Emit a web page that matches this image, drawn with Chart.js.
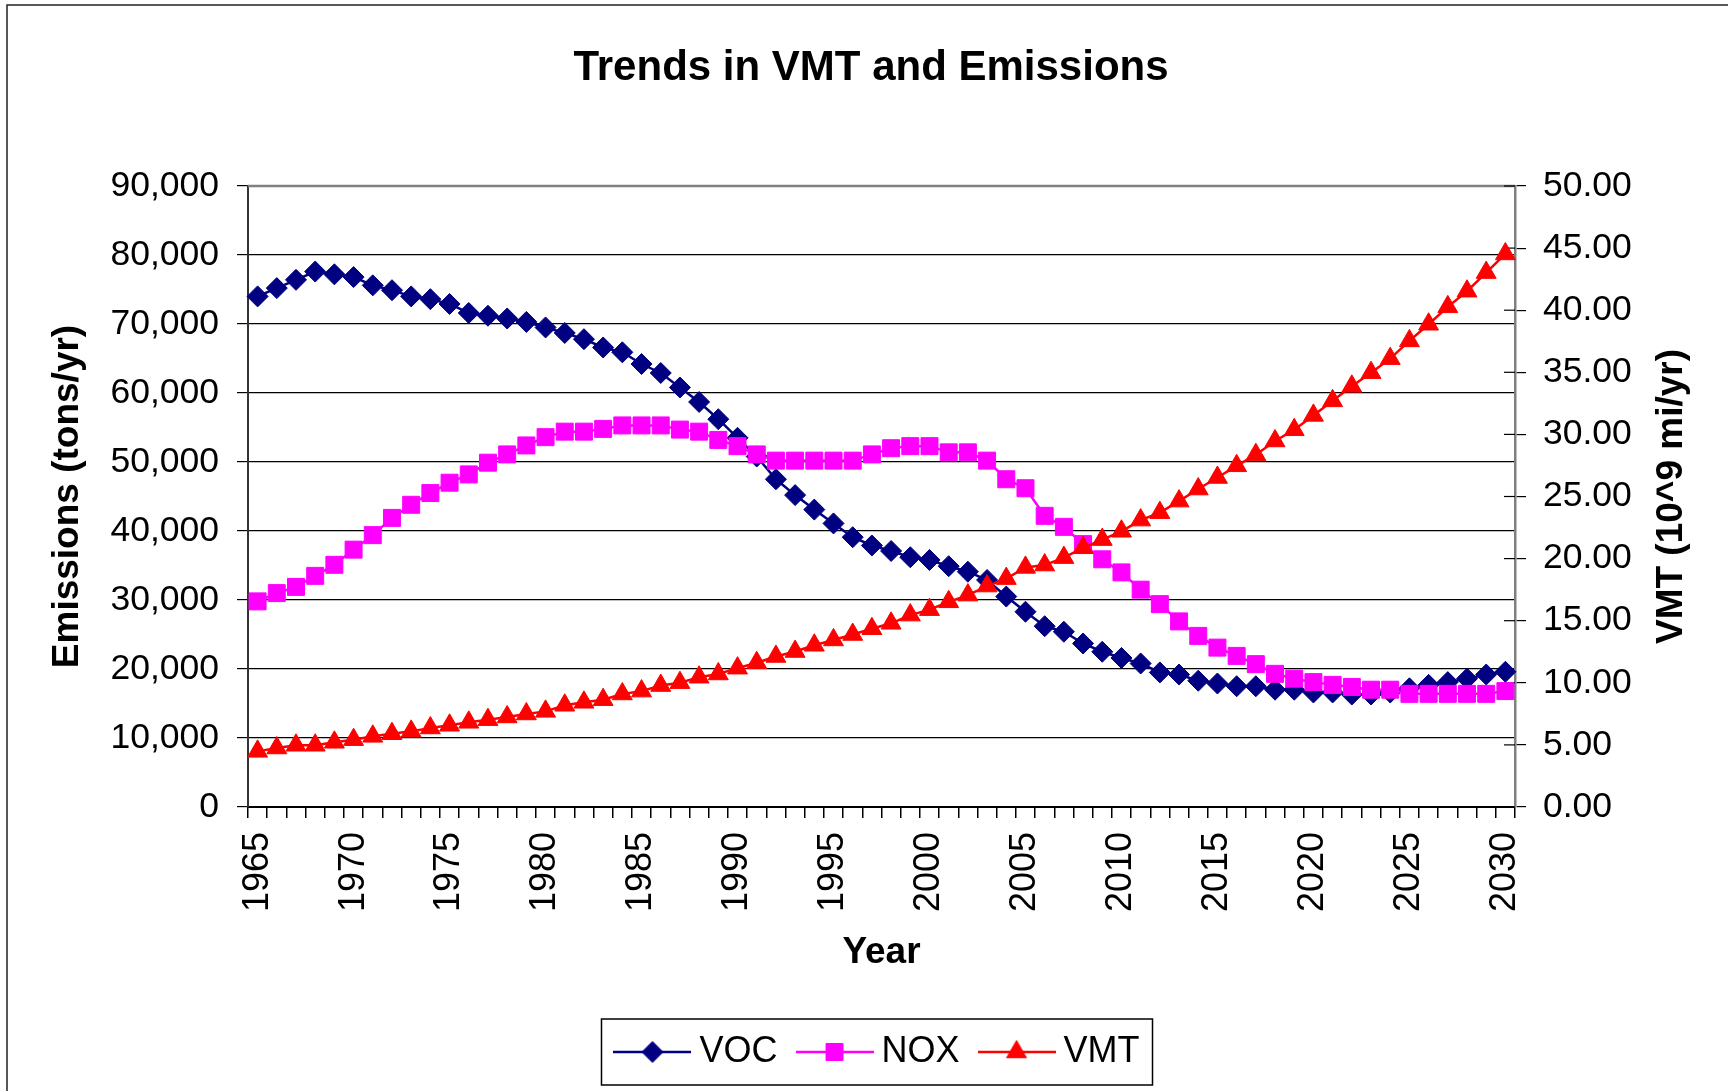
<!DOCTYPE html>
<html>
<head>
<meta charset="utf-8">
<title>Trends in VMT and Emissions</title>
<script src="https://cdn.jsdelivr.net/npm/chart.js@4/dist/chart.umd.min.js"></script>
<style>
  html, body { margin: 0; padding: 0; background: #fff; }
  canvas { display: block; }
</style>
</head>
<body>
<canvas id="trendChart" width="1728" height="1091"></canvas>
<script>
const years = ['1965', '1966', '1967', '1968', '1969', '1970', '1971', '1972', '1973', '1974',
  '1975', '1976', '1977', '1978', '1979', '1980', '1981', '1982', '1983', '1984',
  '1985', '1986', '1987', '1988', '1989', '1990', '1991', '1992', '1993', '1994',
  '1995', '1996', '1997', '1998', '1999', '2000', '2001', '2002', '2003', '2004',
  '2005', '2006', '2007', '2008', '2009', '2010', '2011', '2012', '2013', '2014',
  '2015', '2016', '2017', '2018', '2019', '2020', '2021', '2022', '2023', '2024',
  '2025', '2026', '2027', '2028', '2029', '2030'];

// emissions, tons/yr (left axis)
const vocValues = [74000, 75200, 76400, 77600, 77200, 76800, 75600, 74900, 74000, 73600,
  72900, 71600, 71200, 70800, 70300, 69500, 68700, 67800, 66600, 65900,
  64200, 62900, 60800, 58700, 56200, 53500, 50800, 47500, 45200, 43100,
  41100, 39100, 37900, 37100, 36200, 35800, 34900, 34100, 32900, 30500,
  28300, 26200, 25400, 23700, 22500, 21600, 20800, 19500, 19200, 18300,
  17900, 17500, 17500, 17000, 17000, 16600, 16600, 16300, 16300, 16600,
  17200, 17700, 18100, 18600, 19200, 19600];

const noxValues = [29800, 31000, 31900, 33500, 35100, 37300, 39400, 41900, 43800, 45500,
  47000, 48200, 49900, 51100, 52400, 53600, 54400, 54400, 54800, 55300,
  55300, 55300, 54700, 54400, 53200, 52300, 51100, 50200, 50200, 50200,
  50200, 50200, 51100, 52000, 52300, 52300, 51400, 51400, 50200, 47500,
  46200, 42200, 40600, 38100, 35900, 34000, 31500, 29400, 26900, 24800,
  23100, 21900, 20700, 19300, 18600, 18100, 17700, 17400, 17000, 17000,
  16400, 16400, 16400, 16400, 16400, 16800];

// VMT, 10^9 mi/yr (right axis)
const vmtValues = [4.48, 4.75, 4.97, 4.97, 5.21, 5.42, 5.69, 5.90, 6.09, 6.36,
  6.58, 6.82, 7.03, 7.25, 7.49, 7.70, 8.19, 8.43, 8.64, 9.10,
  9.33, 9.78, 10.01, 10.45, 10.71, 11.18, 11.62, 12.12, 12.52, 13.02,
  13.45, 13.89, 14.35, 14.79, 15.45, 15.89, 16.52, 17.06, 17.79, 18.39,
  19.29, 19.48, 20.08, 20.87, 21.53, 22.20, 23.10, 23.70, 24.63, 25.60,
  26.53, 27.47, 28.37, 29.47, 30.37, 31.53, 32.70, 33.87, 34.97, 36.10,
  37.53, 38.87, 40.27, 41.53, 43.03, 44.53];

const FONT = '"Liberation Sans", Arial, sans-serif';

// line + marker swatch like the Excel legend
function makeSample(color, style, radius) {
  const c = document.createElement('canvas');
  c.width = 78;
  c.height = 36;
  const g = c.getContext('2d');
  g.strokeStyle = color;
  g.fillStyle = color;
  g.lineWidth = 2.5;
  g.beginPath();
  g.moveTo(0, 18);
  g.lineTo(78, 18);
  g.stroke();
  g.lineWidth = 1;
  Chart.helpers.drawPoint(g, { pointStyle: style, radius: radius, rotation: 0, borderWidth: 1 }, 39, 18);
  return c;
}

const legendSamples = [
  makeSample('#000080', 'rectRot', 10.5),
  makeSample('#ff00ff', 'rect', 12),
  makeSample('#ff0000', 'triangle', 11.5)
];

const chartDecor = {
  id: 'chartDecor',
  beforeDatasetsDraw(chart) {
    const { ctx, chartArea: a } = chart;
    const y1 = chart.scales.y1;
    ctx.save();
    // gray plot-area edge on top
    ctx.strokeStyle = '#808080';
    ctx.lineWidth = 2.5;
    ctx.beginPath();
    ctx.moveTo(a.left, a.top);
    ctx.lineTo(a.right, a.top);
    ctx.stroke();
    // right axis ticks cross the axis line
    ctx.strokeStyle = '#000';
    ctx.lineWidth = 1.2;
    y1.ticks.forEach(t => {
      const y = y1.getPixelForValue(t.value);
      ctx.beginPath();
      ctx.moveTo(a.right - 11, y);
      ctx.lineTo(a.right, y);
      ctx.stroke();
    });
    ctx.restore();
  },
  afterDraw(chart) {
    const { ctx, chartArea: a, legend } = chart;
    ctx.save();
    // outer frame, only top and left edges are visible in the original
    ctx.strokeStyle = '#222';
    ctx.lineWidth = 1.5;
    ctx.beginPath();
    ctx.moveTo(7, chart.height);
    ctx.lineTo(7, 5);
    ctx.lineTo(chart.width, 5);
    ctx.stroke();

    // right axis title reads bottom to top, like the left one
    ctx.font = 'bold 37px ' + FONT;
    ctx.fillStyle = '#000';
    ctx.textAlign = 'center';
    ctx.textBaseline = 'middle';
    ctx.translate(1672, (a.top + a.bottom) / 2);
    ctx.rotate(-Math.PI / 2);
    ctx.fillText('VMT (10^9 mi/yr)', 0, 0);
    ctx.restore();

    // legend frame
    const boxes = legend.legendHitBoxes;
    if (boxes && boxes.length) {
      const first = boxes[0];
      const last = boxes[boxes.length - 1];
      const cy = first.top + first.height / 2;
      const left = first.left - 22;
      const right = last.left + last.width + 13;
      ctx.save();
      ctx.strokeStyle = '#000';
      ctx.lineWidth = 1.5;
      ctx.strokeRect(left, cy - 33, right - left, 66);
      ctx.restore();
    }
  }
};

new Chart(document.getElementById('trendChart'), {
  type: 'line',
  data: {
    labels: years,
    datasets: [
      {
        label: 'VOC',
        data: vocValues,
        yAxisID: 'y',
        borderColor: '#000080',
        backgroundColor: '#000080',
        borderWidth: 2.5,
        pointStyle: 'rectRot',
        pointRadius: 10.5,
        pointHoverRadius: 10.5,
        pointBorderWidth: 1,
        tension: 0,
        order: 2
      },
      {
        label: 'NOX',
        data: noxValues,
        yAxisID: 'y',
        borderColor: '#ff00ff',
        backgroundColor: '#ff00ff',
        borderWidth: 2.5,
        pointStyle: 'rect',
        pointRadius: 12,
        pointHoverRadius: 12,
        pointBorderWidth: 1,
        tension: 0,
        order: 1
      },
      {
        label: 'VMT',
        data: vmtValues,
        yAxisID: 'y1',
        borderColor: '#ff0000',
        backgroundColor: '#ff0000',
        borderWidth: 2.5,
        pointStyle: 'triangle',
        pointRadius: 11.5,
        pointHoverRadius: 11.5,
        pointBorderWidth: 1,
        tension: 0,
        order: 0
      }
    ]
  },
  options: {
    responsive: false,
    animation: false,
    layout: { padding: { left: 14, right: 0, top: 0, bottom: 11 } },
    plugins: {
      title: {
        display: true,
        text: 'Trends in VMT and Emissions',
        color: '#000',
        font: { family: FONT, size: 42, weight: 'bold' },
        padding: { top: 43, bottom: 92.6 }
      },
      legend: {
        position: 'bottom',
        fullSize: false,
        labels: {
          usePointStyle: true,
          pointStyleWidth: 58,
          padding: 28,
          color: '#000',
          font: { family: FONT, size: 36 },
          generateLabels(chart) {
            return chart.data.datasets.map((ds, i) => ({
              text: ds.label,
              pointStyle: legendSamples[i],
              fillStyle: ds.borderColor,
              strokeStyle: ds.borderColor,
              lineWidth: 0,
              fontColor: '#000',
              hidden: !chart.isDatasetVisible(i),
              datasetIndex: i
            }));
          }
        }
      },
      tooltip: { enabled: false }
    },
    scales: {
      x: {
        type: 'category',
        offset: true,
        afterFit(scale) { scale.height = 199; },
        grid: { drawOnChartArea: false, drawTicks: true, tickLength: 11, offset: true, color: '#000', lineWidth: 1.5 },
        border: { color: '#000', width: 2 },
        ticks: {
          autoSkip: false,
          maxRotation: 90,
          minRotation: 90,
          padding: 14,
          color: '#000',
          font: { family: FONT, size: 36 },
          callback(value, index) {
            const yr = years[index];
            return Number(yr) % 5 === 0 ? yr : '';
          }
        },
        title: {
          display: true,
          text: 'Year',
          color: '#000',
          font: { family: FONT, size: 37, weight: 'bold' },
          padding: { top: 0, bottom: 31 }
        }
      },
      y: {
        position: 'left',
        min: 0,
        max: 90000,
        afterFit(scale) { scale.width = 234; },
        grid: { color: '#000', lineWidth: 1.2, drawTicks: true, tickLength: 11 },
        border: { color: '#333', width: 2 },
        ticks: {
          stepSize: 10000,
          padding: 18,
          color: '#000',
          font: { family: FONT, size: 35.5 },
          callback: v => v.toLocaleString('en-US')
        },
        title: {
          display: true,
          text: 'Emissions (tons/yr)',
          color: '#000',
          font: { family: FONT, size: 37, weight: 'bold' },
          padding: { top: 32, bottom: 0 }
        }
      },
      y1: {
        position: 'right',
        min: 0,
        max: 50,
        afterFit(scale) { scale.width = 213; },
        grid: { drawOnChartArea: false, drawTicks: true, tickLength: 11, color: '#000', lineWidth: 1.2 },
        border: { color: '#808080', width: 2.5 },
        ticks: {
          stepSize: 5,
          padding: 17,
          color: '#000',
          font: { family: FONT, size: 35.5 },
          callback: v => v.toFixed(2)
        }
      }
    }
  },
  plugins: [chartDecor]
});
</script>
</body>
</html>
